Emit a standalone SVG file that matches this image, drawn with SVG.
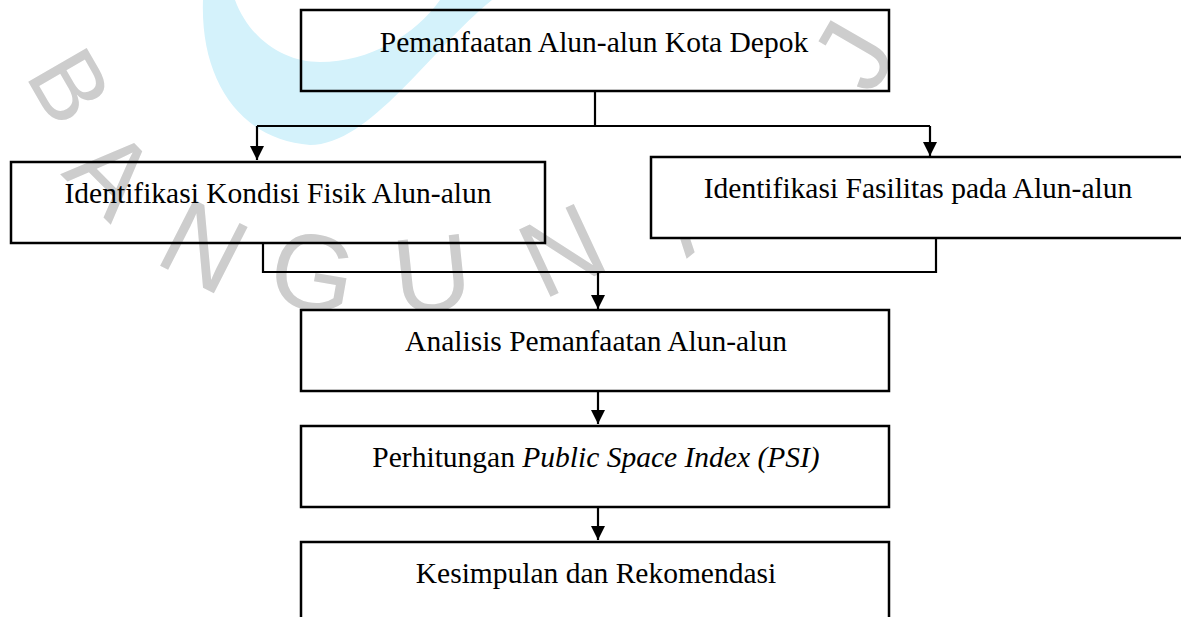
<svg xmlns="http://www.w3.org/2000/svg" width="1181" height="617" viewBox="0 0 1181 617">
  <style>
    .box { stroke: #000; stroke-width: 2.5; }
    .open { fill: none; }
    .solid { fill: #fff; }
    .lbl { font-family: "Liberation Serif", "Times New Roman", serif; font-size: 29.5px; fill: #000; text-anchor: middle; }
    .it { font-style: italic; }
    .wm { font-family: "Liberation Sans", Arial, sans-serif; font-size: 108px; fill: #cdcdcd; text-anchor: middle; dominant-baseline: central; }
    .conn { fill: none; stroke: #000; stroke-width: 2.2; }
  </style>
  <defs>
    <marker id="arrow" markerUnits="userSpaceOnUse" markerWidth="14" markerHeight="14" refX="14" refY="7" orient="auto">
      <path d="M0,0 L14,7 L0,14 Z" fill="#000"/>
    </marker>
  </defs>
  <rect width="1181" height="617" fill="#fff"/>

  <g id="watermark">
    <path d="M203,0 C200,80 240,140 310,145 C370,145 430,50 492,0 L440,0 C415,35 370,62 320,62 C285,62 250,40 235,0 Z" fill="#d4f2fb"/>
    <text class="wm" transform="translate(70,86) rotate(60)" style="font-size:98px">B</text>
    <text class="wm" transform="translate(112,173) rotate(45)">A</text>
    <text class="wm" transform="translate(204,246) rotate(27)">N</text>
    <text class="wm" transform="translate(313,272) rotate(10)">G</text>
    <text class="wm" transform="translate(432,274) rotate(-6)">U</text>
    <text class="wm" transform="translate(562,250) rotate(-25)">N</text>
    <text class="wm" transform="translate(690,207) rotate(-40)">A</text>
    <text class="wm" transform="translate(853,55) rotate(-60)">J</text>
  </g>

  <g id="connectors">
    <path class="conn" d="M595,91 V126"/>
    <path class="conn" d="M257,126 H930"/>
    <path class="conn" d="M257,126 V160" marker-end="url(#arrow)"/>
    <path class="conn" d="M930,126 V156" marker-end="url(#arrow)"/>
    <path class="conn" d="M263,243 V272 H936 V238"/>
    <path class="conn" d="M598,272 V309" marker-end="url(#arrow)"/>
    <path class="conn" d="M598,391 V424" marker-end="url(#arrow)"/>
    <path class="conn" d="M598,507 V540" marker-end="url(#arrow)"/>
  </g>

  <g id="node-pemanfaatan">
    <rect class="box open" x="301" y="10" width="588" height="81"/>
    <text class="lbl" x="594" y="52">Pemanfaatan Alun-alun Kota Depok</text>
  </g>
  <g id="node-kondisi-fisik">
    <rect class="box open" x="11" y="162" width="534" height="81"/>
    <text class="lbl" x="278" y="203">Identifikasi Kondisi Fisik Alun-alun</text>
  </g>
  <g id="node-fasilitas">
    <rect class="box solid" x="651" y="157" width="545" height="81"/>
    <text class="lbl" x="918" y="198">Identifikasi Fasilitas pada Alun-alun</text>
  </g>
  <g id="node-analisis">
    <rect class="box solid" x="301" y="310" width="588" height="81"/>
    <text class="lbl" x="596" y="351">Analisis Pemanfaatan Alun-alun</text>
  </g>
  <g id="node-psi">
    <rect class="box solid" x="301" y="426" width="588" height="81"/>
    <text class="lbl" x="596" y="467">Perhitungan <tspan class="it">Public Space Index (PSI)</tspan></text>
  </g>
  <g id="node-kesimpulan">
    <rect class="box solid" x="301" y="542" width="588" height="90"/>
    <text class="lbl" x="596" y="583">Kesimpulan dan Rekomendasi</text>
  </g>
</svg>
